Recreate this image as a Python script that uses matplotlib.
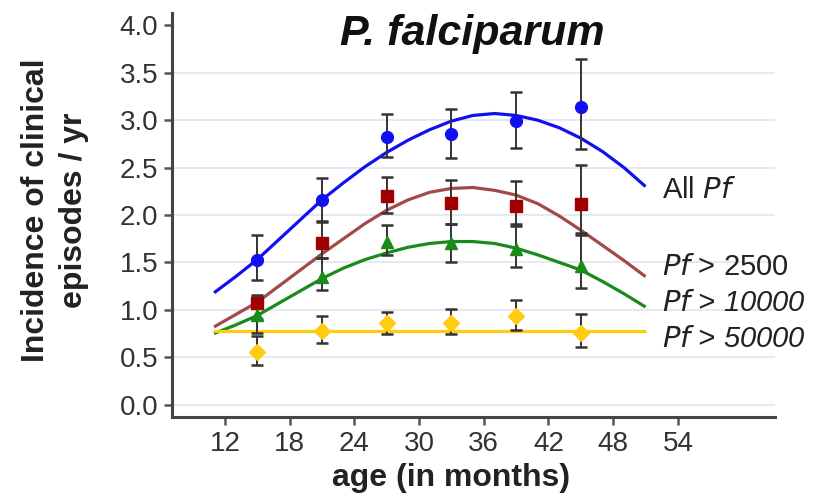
import matplotlib
matplotlib.use("Agg")
import matplotlib.pyplot as plt
from matplotlib.transforms import Bbox, TransformedBbox

plt.rcParams['font.family'] = ['Liberation Sans', 'DejaVu Sans']

# ---- data ----
ages = [15, 21, 27, 33, 39, 45]

all_pf = [1.53, 2.16, 2.82, 2.85, 2.99, 3.14]
all_pf_lo = [1.31, 1.94, 2.61, 2.60, 2.71, 2.70]
all_pf_hi = [1.79, 2.39, 3.06, 3.12, 3.30, 3.65]

pf2500 = [1.07, 1.71, 2.20, 2.13, 2.10, 2.12]
pf2500_lo = [0.90, 1.55, 2.02, 1.91, 1.88, 1.79]
pf2500_hi = [1.16, 1.93, 2.40, 2.37, 2.36, 2.53]

pf10000 = [0.95, 1.35, 1.72, 1.70, 1.64, 1.46]
pf10000_lo = [0.76, 1.21, 1.58, 1.50, 1.45, 1.23]
pf10000_hi = [1.14, 1.55, 1.89, 1.91, 1.90, 1.81]

pf50000 = [0.56, 0.78, 0.86, 0.86, 0.93, 0.76]
pf50000_lo = [0.42, 0.65, 0.75, 0.74, 0.79, 0.61]
pf50000_hi = [0.72, 0.93, 0.98, 1.01, 1.10, 0.96]

fit_age = [11, 13, 15, 17, 19, 21, 23, 25, 27, 29, 31, 33, 35, 37, 39, 41, 43, 45, 47, 49, 51]
fit_all = [1.18, 1.35, 1.53, 1.74, 1.95, 2.16, 2.34, 2.51, 2.66, 2.79, 2.90, 2.99, 3.05, 3.07, 3.05, 3.00, 2.92, 2.81, 2.67, 2.50, 2.30]
fit_2500 = [0.82, 0.95, 1.08, 1.25, 1.42, 1.59, 1.75, 1.91, 2.05, 2.16, 2.24, 2.28, 2.29, 2.26, 2.21, 2.12, 1.99, 1.84, 1.68, 1.52, 1.35]
fit_10000 = [0.75, 0.84, 0.94, 1.07, 1.20, 1.33, 1.44, 1.53, 1.60, 1.66, 1.70, 1.72, 1.72, 1.70, 1.65, 1.58, 1.50, 1.42, 1.30, 1.17, 1.03]
fit_50000 = [0.78] * len(fit_age)

xticks = [12, 18, 24, 30, 36, 42, 48, 54]
yticks = [0.0, 0.5, 1.0, 1.5, 2.0, 2.5, 3.0, 3.5, 4.0]

W, H = 824, 497
fig = plt.figure(figsize=(W / 100, H / 100), dpi=100)
ax = fig.add_axes([172 / W, 1 - 417 / H, (775 - 172) / W, (417 - 13) / H])
ax.set_xlim(7.1, 63.0)
ax.set_ylim(-0.13, 4.13)

for g in yticks[:-1]:
    ax.axhline(g, color='#e6e9f2', lw=1.5, zorder=0)

series = [
    (fit_all, all_pf, all_pf_lo, all_pf_hi, '#1010f0', '#1010f0', 'o', 8.5),
    (fit_2500, pf2500, pf2500_lo, pf2500_hi, '#a24a48', '#a00000', 's', 8),
    (fit_10000, pf10000, pf10000_lo, pf10000_hi, '#1a8a1a', '#1a8a1a', '^', 8.5),
    (fit_50000, pf50000, pf50000_lo, pf50000_hi, '#ffcc10', '#ffcc10', 'D', 8),
]

for fit, vals, lo, hi, lc, mc, mk, ms in series:
    ax.plot(fit_age, fit, color=lc, lw=2.3, zorder=2, solid_capstyle='butt',
            solid_joinstyle='round')
for fit, vals, lo, hi, lc, mc, mk, ms in series:
    err = [[v - l for v, l in zip(vals, lo)], [h - v for v, h in zip(vals, hi)]]
    ax.errorbar(ages, vals, yerr=err, fmt='none', ecolor='#333333', elinewidth=1.4,
                capsize=4.5, capthick=1.8, zorder=3)
    ax.plot(ages, vals, linestyle='none', marker=mk, ms=ms, color=mc, mec=mc, zorder=4)

for s in ['top', 'right']:
    ax.spines[s].set_visible(False)
for s in ['left', 'bottom']:
    ax.spines[s].set_color('#444444')
    ax.spines[s].set_linewidth(2.2)

ax.set_xticks(xticks)
ax.set_yticks(yticks)
ax.set_yticklabels([f"{t:.1f}" for t in yticks])
ax.tick_params(axis='both', direction='out', length=6, width=1.8, color='#555555',
               labelsize=20, labelcolor='#333333', pad=4)

ax.set_xlabel('age (in months)', fontsize=23, fontweight='bold', color='#222222', labelpad=2)
ax.xaxis.set_label_coords(0.463, -0.115)
ax.set_ylabel('Incidence of clinical\nepisodes / yr', fontsize=23, fontweight='bold',
              color='#222222', linespacing=1.35)
ax.yaxis.set_label_coords(-0.138, 0.512)

t = fig.text(472 / W, 1 - 45 / H, 'P. falciparum', fontsize=31, fontweight='bold',
             fontstyle='italic', ha='center', va='baseline', color='#111111')

lab_kw = dict(fontsize=21, color='#222222', va='center', ha='left')
fig.text(662 / W, 1 - 190 / H, 'All $\\it{Pf}$', **lab_kw)
fig.text(662 / W, 1 - 267 / H, '$\\it{Pf}$ > 2500', **lab_kw)
fig.text(662 / W, 1 - 303 / H, '$\\it{Pf}$ > 10000', fontstyle='italic', **lab_kw)
fig.text(662 / W, 1 - 339 / H, '$\\it{Pf}$ > 50000', fontstyle='italic', **lab_kw)

fig.savefig('out.png', dpi=100)
